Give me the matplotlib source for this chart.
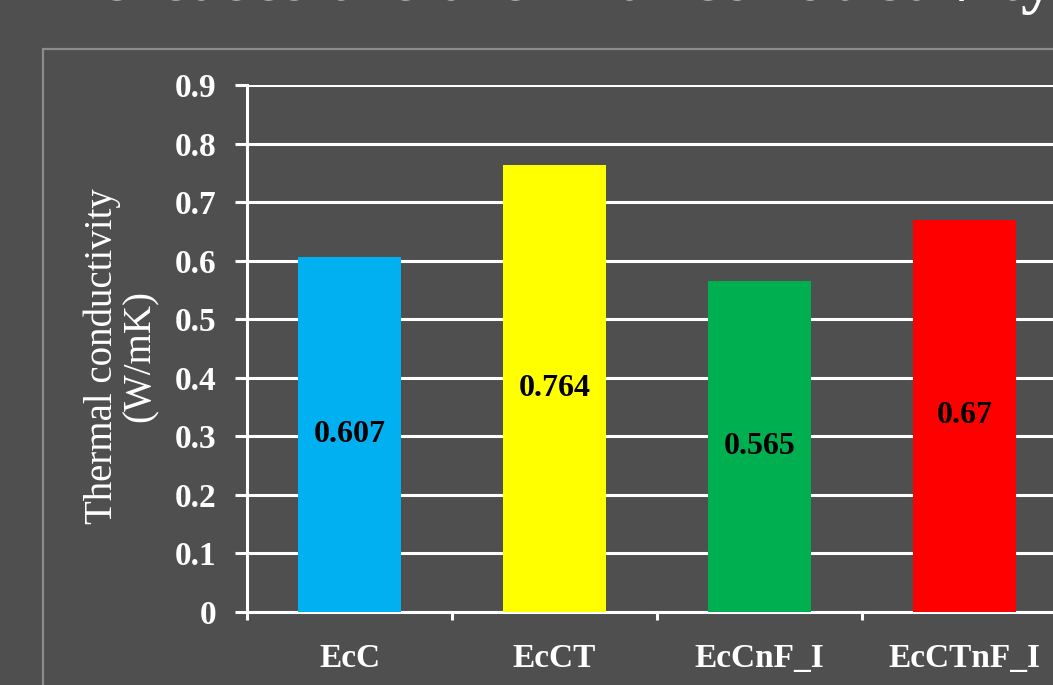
import matplotlib.pyplot as plt
from matplotlib.patches import Rectangle
from matplotlib.ticker import FixedLocator

categories = ["EcC", "EcCT", "EcCnF_I", "EcCTnF_I"]
values = [0.607, 0.764, 0.565, 0.67]
value_labels = ["0.607", "0.764", "0.565", "0.67"]
colors = ["#00b0f0", "#ffff00", "#00b050", "#ff0000"]
y_ticks = [0, 0.1, 0.2, 0.3, 0.4, 0.5, 0.6, 0.7, 0.8, 0.9]
y_tick_labels = ["0", "0.1", "0.2", "0.3", "0.4", "0.5", "0.6", "0.7", "0.8", "0.9"]

W, H = 1053, 685
BG = "#4f4f4f"
SERIF = ["Liberation Serif", "DejaVu Serif"]

fig = plt.figure(figsize=(W / 100, H / 100), dpi=100, facecolor=BG)

# slide title, mostly cut off at the top edge (as in the source slide)
fig.text(40 / W, 1.0, "increases the thermal conductivity",
         family=SERIF, fontsize=50, fontweight="bold", color="white",
         ha="left", va="baseline")

# thin frame around the chart area
fig.patches.append(Rectangle((43 / W, -0.1), 1.2, 1.1 - 49 / H,
                             transform=fig.transFigure, fill=False,
                             edgecolor="#8c8c8c", linewidth=1.6))

left, bottom = 247 / W, 1 - 612 / H
ax = fig.add_axes([left, bottom, 820 / W, (612 - 85) / H])
ax.set_facecolor("none")

x = list(range(len(categories)))
ax.bar(x, values, width=0.5, color=colors, zorder=3)
for xi, v, lab in zip(x, values, value_labels):
    ax.text(xi, v / 2, lab, ha="center", va="center", family=SERIF,
            fontsize=23, fontweight="bold", color="black", zorder=4)

ax.set_xlim(-0.5, len(categories) - 0.5)
ax.set_ylim(0, 0.9)
ax.set_yticks(y_ticks)
ax.set_yticklabels(y_tick_labels, family=SERIF, fontsize=24,
                   fontweight="bold", color="white")
ax.set_xticks(x)
ax.set_xticklabels(categories, family=SERIF, fontsize=24,
                   fontweight="bold", color="white")
ax.xaxis.set_minor_locator(FixedLocator([i - 0.5 for i in range(len(categories) + 1)]))

ax.tick_params(axis="y", length=9, width=2.2, color="white", pad=13)
ax.tick_params(axis="x", which="major", length=0, pad=22)
ax.tick_params(axis="x", which="minor", length=6, width=2.2, color="white")

ax.grid(axis="y", color="white", linewidth=2.2, zorder=1)
ax.set_axisbelow(True)
for side in ["top", "right"]:
    ax.spines[side].set_visible(False)
for side in ["left", "bottom"]:
    ax.spines[side].set_color("white")
    ax.spines[side].set_linewidth(2.2)

ax.set_ylabel("Thermal conductivity\n(W/mK)", family=SERIF, fontsize=28,
              color="white", linespacing=1.0)
ax.yaxis.set_label_coords(-0.108, 0.486)

fig.savefig("out.png", dpi=100, facecolor=BG)
